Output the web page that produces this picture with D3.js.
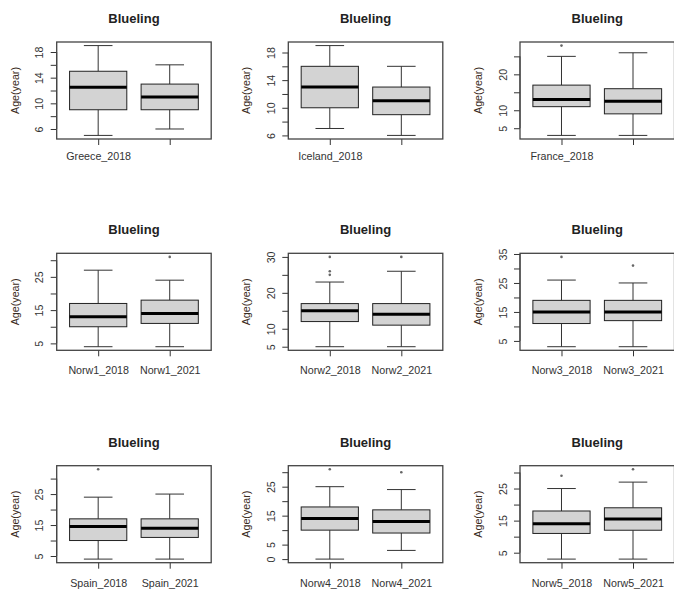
<!DOCTYPE html>
<html>
<head>
<meta charset="utf-8">
<script src="https://cdn.jsdelivr.net/npm/d3@7"></script>
<style>
  html, body { margin: 0; padding: 0; background: #fff; }
  svg { display: block; }
  text { font-family: "Liberation Sans", Arial, sans-serif; }
</style>
</head>
<body>
<svg id="chart" width="674" height="590"></svg>
<script>
// ---------- DATA ----------
const titles = ["Blueling","Blueling","Blueling","Blueling","Blueling","Blueling","Blueling","Blueling","Blueling"];
const categories = [
  ["Greece_2018","Greece_2021"],
  ["Iceland_2018","Iceland_2021"],
  ["France_2018","France_2021"],
  ["Norw1_2018","Norw1_2021"],
  ["Norw2_2018","Norw2_2021"],
  ["Norw3_2018","Norw3_2021"],
  ["Spain_2018","Spain_2021"],
  ["Norw4_2018","Norw4_2021"],
  ["Norw5_2018","Norw5_2021"]
];
// labels actually printed under the ticks (R drops overlapping ones)
const xTickLabels = [
  ["Greece_2018",""],
  ["Iceland_2018",""],
  ["France_2018",""],
  ["Norw1_2018","Norw1_2021"],
  ["Norw2_2018","Norw2_2021"],
  ["Norw3_2018","Norw3_2021"],
  ["Spain_2018","Spain_2021"],
  ["Norw4_2018","Norw4_2021"],
  ["Norw5_2018","Norw5_2021"]
];
// [lower whisker, Q1, median, Q3, upper whisker]
const boxStats = [
  [[5,9,12.5,15,19],[6,9,11,13,16]],
  [[7,10,13,16,19],[6,9,11,13,16]],
  [[3,11,13,17,25],[3,9,12.5,16,26]],
  [[4,10,13,17,27],[4,11,14,18,24]],
  [[5,12,15,17,23],[5,11,14,17,26]],
  [[3,11,15,19,26],[3,12,15,19,25]],
  [[4,10,14.5,17,24],[4,11,14,17,25]],
  [[0,10,14,18,25],[3,9,13,17,24]],
  [[3,11,14,18,25],[3,12,15.5,19,27]]
];
const outliers = [
  [[],[]],
  [[],[]],
  [[28],[]],
  [[],[31]],
  [[25,26,30],[30]],
  [[34],[31]],
  [[33],[]],
  [[31],[30]],
  [[29],[31]]
];
const yTicks = [
  [6,8,10,12,14,16,18],
  [6,8,10,12,14,16,18],
  [5,10,15,20,25],
  [5,10,15,20,25,30],
  [5,10,15,20,25,30],
  [5,10,15,20,25,30,35],
  [5,10,15,20,25,30],
  [0,5,10,15,20,25,30],
  [5,10,15,20,25,30]
];
const yTickLabels = [
  ["6","","10","","14","","18"],
  ["6","","10","","14","","18"],
  ["5","10","","20",""],
  ["5","","15","","25",""],
  ["5","10","","20","","30"],
  ["5","","15","","25","","35"],
  ["5","","15","","25",""],
  ["0","5","","15","","25",""],
  ["5","","15","","25",""]
];
const yTitle = "Age(year)";

// ---------- LAYOUT ----------
const colLeft = [56.7, 288.3, 520];
const rowTop = [42, 253.3, 465.7];
const plotW = 154.5, plotH = 97;
const xLabelOff = [17.5, 20, 20.5];

const svg = d3.select("#chart");
const fs = 10.7;

boxStats.forEach((stats, i) => {
  const r = Math.floor(i / 3), c = i % 3;
  const g = svg.append("g").attr("transform", `translate(${colLeft[c]},${rowTop[r]})`);

  const allVals = stats.flat().concat(outliers[i].flat());
  const [mn, mx] = d3.extent(allVals);
  const ext = (mx - mn) * 0.04;
  const y = d3.scaleLinear().domain([mn - ext, mx + ext]).range([plotH, 0]);
  const x = d3.scaleLinear().domain([0.5 - 0.08, 2.5 + 0.08]).range([0, plotW]);
  const halfW = 0.4;

  // boxes
  stats.forEach((s, j) => {
    const cx = j + 1;
    const [lo, q1, med, q3, hi] = s;
    const bx = g.append("g");
    // whiskers
    bx.append("line").attr("x1", x(cx)).attr("x2", x(cx)).attr("y1", y(q3)).attr("y2", y(hi))
      .attr("stroke", "#333").attr("stroke-width", 1);
    bx.append("line").attr("x1", x(cx)).attr("x2", x(cx)).attr("y1", y(q1)).attr("y2", y(lo))
      .attr("stroke", "#333").attr("stroke-width", 1);
    // staples
    [lo, hi].forEach(v => {
      bx.append("line").attr("x1", x(cx - halfW / 2)).attr("x2", x(cx + halfW / 2))
        .attr("y1", y(v)).attr("y2", y(v)).attr("stroke", "#333").attr("stroke-width", 1);
    });
    // box
    bx.append("rect").attr("x", x(cx - halfW)).attr("y", y(q3))
      .attr("width", x(cx + halfW) - x(cx - halfW)).attr("height", y(q1) - y(q3))
      .attr("fill", "#d3d3d3").attr("stroke", "#222").attr("stroke-width", 1);
    // median
    bx.append("line").attr("x1", x(cx - halfW)).attr("x2", x(cx + halfW))
      .attr("y1", y(med)).attr("y2", y(med)).attr("stroke", "#000").attr("stroke-width", 3);
    // outliers
    outliers[i][j].forEach(v => {
      bx.append("circle").attr("cx", x(cx)).attr("cy", y(v)).attr("r", 1.3).attr("fill", "#666");
    });
  });

  // y axis
  const labs = yTickLabels[i];
  const yAxis = d3.axisLeft(y).tickValues(yTicks[i]).tickSize(6).tickSizeOuter(0)
    .tickFormat((d, k) => labs[k]);
  const ya = g.append("g").call(yAxis);
  ya.select(".domain").remove();
  ya.selectAll(".tick line").attr("stroke", "#333").attr("stroke-width", 1);
  ya.selectAll(".tick text")
    .attr("x", null).attr("dy", null)
    .attr("transform", "translate(-17,0) rotate(-90)")
    .attr("text-anchor", "middle").attr("dy", "0.35em")
    .attr("font-size", fs).attr("fill", "#333")
    .style("font-family", "'Liberation Sans', Arial, sans-serif");
  ya.append("line").attr("x1", 0).attr("x2", 0)
    .attr("y1", y(d3.min(yTicks[i]))).attr("y2", y(d3.max(yTicks[i])))
    .attr("stroke", "#333");

  // x axis
  const xl = xTickLabels[i];
  const xAxis = d3.axisBottom(x).tickValues([1, 2]).tickSize(6).tickSizeOuter(0)
    .tickFormat((d, k) => xl[k]);
  const xa = g.append("g").attr("transform", `translate(0,${plotH})`).call(xAxis);
  xa.select(".domain").remove();
  xa.selectAll(".tick line").attr("stroke", "#333").attr("stroke-width", 1);
  xa.selectAll(".tick text")
    .attr("y", xLabelOff[r]).attr("dy", "0.35em")
    .attr("font-size", fs).attr("fill", "#333")
    .style("font-family", "'Liberation Sans', Arial, sans-serif");

  // frame
  g.append("rect").attr("x", 0).attr("y", 0).attr("width", plotW).attr("height", plotH)
    .attr("fill", "none").attr("stroke", "#444").attr("stroke-width", 1.3);

  // title
  g.append("text").attr("x", plotW / 2).attr("y", -23.5).attr("dy", "0.35em")
    .attr("text-anchor", "middle").attr("font-size", 13).attr("font-weight", "bold")
    .attr("fill", "#222").text(titles[i]);

  // y title
  g.append("text").attr("transform", `translate(-41.7,${plotH / 2}) rotate(-90)`)
    .attr("dy", "0.35em").attr("text-anchor", "middle").attr("font-size", fs)
    .attr("fill", "#3a2b22").text(yTitle);
});
</script>
</body>
</html>
